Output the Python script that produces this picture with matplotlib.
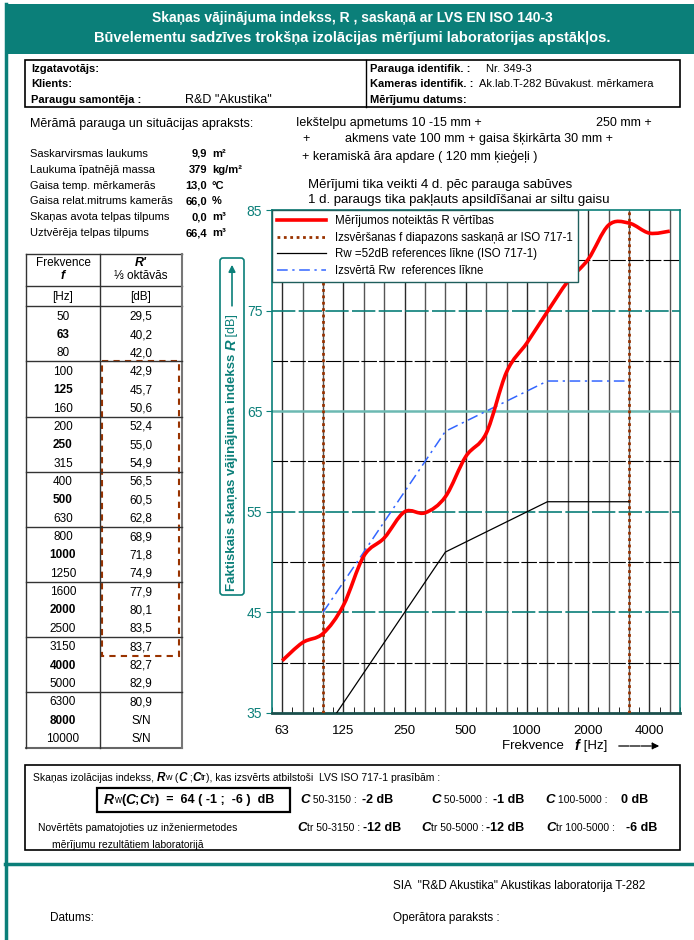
import matplotlib
matplotlib.use("Agg")
import matplotlib.pyplot as plt
from matplotlib.path import Path
from matplotlib.patches import PathPatch, Rectangle, FancyBboxPatch
from matplotlib.lines import Line2D

plt.rcParams['font.family'] = ['Liberation Sans', 'DejaVu Sans']

W, H = 694, 940
TEAL = "#0b7f79"
BROWN = "#993300"
BLUE = "#3366ff"

# --- data ---
table_freq = ["50", "63", "80", "100", "125", "160", "200", "250", "315", "400", "500", "630",
              "800", "1000", "1250", "1600", "2000", "2500", "3150", "4000", "5000", "6300", "8000", "10000"]
table_r = ["29,5", "40,2", "42,0", "42,9", "45,7", "50,6", "52,4", "55,0", "54,9", "56,5", "60,5", "62,8",
           "68,9", "71,8", "74,9", "77,9", "80,1", "83,5", "83,7", "82,7", "82,9", "80,9", "S/N", "S/N"]
bold_freq = ["63", "125", "250", "500", "1000", "2000", "4000", "8000"]

plot_freq = ["63", "80", "100", "125", "160", "200", "250", "315", "400", "500", "630", "800",
             "1000", "1250", "1600", "2000", "2500", "3150", "4000", "5000"]
r_meas = [40.2, 42.0, 42.9, 45.7, 50.6, 52.4, 55.0, 54.9, 56.5, 60.5, 62.8, 68.9,
          71.8, 74.9, 77.9, 80.1, 83.5, 83.7, 82.7, 82.9]
ref_freq = ["100", "125", "160", "200", "250", "315", "400", "500", "630", "800",
            "1000", "1250", "1600", "2000", "2500", "3150"]
ref_52 = [33, 36, 39, 42, 45, 48, 51, 52, 53, 54, 55, 56, 56, 56, 56, 56]
ref_64 = [45, 48, 51, 54, 57, 60, 63, 64, 65, 66, 67, 68, 68, 68, 68, 68]
range_freq = ["100", "3150"]
xtick_freq = ["63", "125", "250", "500", "1000", "2000", "4000"]
yticks = [35, 45, 55, 65, 75, 85]

params = [("Saskarvirsmas laukums", "9,9", "m²"),
          ("Laukuma īpatnējā massa", "379", "kg/m²"),
          ("Gaisa temp. mērkamerās", "13,0", "°C"),
          ("Gaisa relat.mitrums kamerās", "66,0", "%"),
          ("Skaņas avota telpas tilpums", "0,0", "m³"),
          ("Uztvērēja telpas tilpums", "66,4", "m³")]

legend_labels = ["Mērījumos noteiktās R vērtības",
                 "Izsvēršanas f diapazons saskaņā ar ISO 717-1",
                 "Rw =52dB references līkne (ISO 717-1)",
                 "Izsvērtā Rw  references līkne"]

fig = plt.figure(figsize=(W / 100, H / 100), dpi=100)
bg = fig.add_axes([0, 0, 1, 1])
bg.set_xlim(0, W)
bg.set_ylim(H, 0)
bg.axis('off')
rend = fig.canvas.get_renderer()


def runs(x, y, parts, va='center'):
    for s, kw in parts:
        t = bg.text(x, y, s, va=va, ha='left', **kw)
        x += t.get_window_extent(rend).width
    return x


def vruns(x, y, parts):
    for s, kw in parts:
        t = bg.text(x, y, s, va='center', ha='left', rotation=90, rotation_mode='anchor', **kw)
        y -= t.get_window_extent(rend).height
    return y


# --- frame / header ---
bg.add_patch(Rectangle((5, 4), W - 5, 50, color=TEAL, lw=0))
bg.plot([6, 6], [4, H], color=TEAL, lw=2.5)
bg.plot([5, W], [864, 864], color=TEAL, lw=2.5)
bg.text(352, 18, "Skaņas vājinājuma indekss, R , saskaņā ar LVS EN ISO 140-3", color='white',
        fontsize=10, fontweight='bold', ha='center', va='center')
bg.text(352, 38, "Būvelementu sadzīves trokšņa izolācijas mērījumi laboratorijas apstākļos.",
        color='white', fontsize=10.5, fontweight='bold', ha='center', va='center')

# info box
bg.add_patch(Rectangle((25, 60), 655, 47, fill=False, ec='black', lw=1.2))
bg.plot([366, 366], [60, 107], color='black', lw=1)
info_fs = 8
bg.text(31, 69, "Izgatavotājs:", fontsize=info_fs, fontweight='bold', va='center')
bg.text(31, 84, "Klients:", fontsize=info_fs, fontweight='bold', va='center')
bg.text(31, 100, "Paraugu samontēja :", fontsize=info_fs, fontweight='bold', va='center')
bg.text(185, 100, 'R&D "Akustika"', fontsize=9, va='center')
bg.text(370, 69, "Parauga identifik. :", fontsize=info_fs, fontweight='bold', va='center')
bg.text(370, 84, "Kameras identifik. :", fontsize=info_fs, fontweight='bold', va='center')
bg.text(370, 100, "Mērījumu datums:", fontsize=info_fs, fontweight='bold', va='center')
bg.text(486, 69, "Nr. 349-3", fontsize=8, va='center')
bg.text(479, 84, "Ak.lab.T-282 Būvakust. mērkamera", fontsize=8, va='center')

# description
bg.text(30, 124, "Mērāmā parauga un situācijas apraksts:", fontsize=9, va='center')
bg.text(296, 123, "Iekštelpu apmetums 10 -15 mm +", fontsize=9, va='center')
bg.text(596, 123, "250 mm +", fontsize=9, va='center')
bg.text(302, 139, "+", fontsize=9, va='center')
bg.text(345, 139, "akmens vate 100 mm + gaisa šķirkārta 30 mm +", fontsize=9, va='center')
bg.text(302, 156, "+ keramiskā āra apdare ( 120 mm ķieģeļi )", fontsize=9, va='center')
bg.text(308, 185, "Mērījumi tika veikti 4 d. pēc parauga sabūves", fontsize=9.5, va='center')
bg.text(308, 200, "1 d. paraugs tika pakļauts apsildīšanai ar siltu gaisu", fontsize=9.5, va='center')

for i, (lab, val, unit) in enumerate(params):
    y = 154 + i * 15.8
    bg.text(30, y, lab, fontsize=8, va='center')
    bg.text(207, y, val, fontsize=8, fontweight='bold', va='center', ha='right')
    bg.text(212, y, unit, fontsize=8, fontweight='bold', va='center')

# --- table ---
tl, tm, tr = 26, 100, 182
tc = '#333333'
bg.plot([tl, tr], [254, 254], color=tc, lw=1)
bg.plot([tl, tr], [286, 286], color=tc, lw=1)
bg.plot([tl, tr], [306, 306], color=tc, lw=1)
bg.plot([tl, tr], [748, 748], color='#666666', lw=1.5)
bg.plot([tl, tl], [254, 748], color=tc, lw=1)
bg.plot([tm, tm], [254, 748], color=tc, lw=1)
bg.plot([tr, tr], [254, 748], color='#777777', lw=1.5)
bg.text(63, 263, "Frekvence", fontsize=8.5, ha='center', va='center')
bg.text(63, 276, "f", fontsize=9, ha='center', va='center', fontweight='bold', style='italic')
bg.text(141, 263, "R'", fontsize=9, ha='center', va='center', fontweight='bold', style='italic')
bg.text(141, 276, "⅓ oktāvās", fontsize=8.5, ha='center', va='center')
bg.text(63, 297, "[Hz]", fontsize=8.5, ha='center', va='center')
bg.text(141, 297, "[dB]", fontsize=8.5, ha='center', va='center')
for i, (f, r) in enumerate(zip(table_freq, table_r)):
    y = 316.7 + i * 18.36
    bg.text(63, y, f, fontsize=8.5, ha='center', va='center',
            fontweight='bold' if f in bold_freq else 'normal')
    bg.text(141, y, r, fontsize=8.5, ha='center', va='center')
    if i % 3 == 2 and i < 21:
        bg.plot([tl, tr], [y + 8, y + 8], color=tc, lw=1)
i0 = table_freq.index(range_freq[0])
i1 = table_freq.index(range_freq[1])
bg.add_patch(Rectangle((102, 316.7 + (i0 - 1) * 18.36 + 8), 77, (i1 - i0 + 1) * 18.36 + 1,
                       fill=False, ec=BROWN, lw=1.5, ls=(0, (3, 2.5))))

# --- chart ---
ax = fig.add_axes([272 / W, 1 - 713 / H, 408 / W, 503 / H])
ax.set_xlim(-0.5, len(plot_freq) - 0.5)
ax.set_ylim(35, 85)
for i in range(len(plot_freq)):
    ax.axvline(i, color='#2a2a2a' if i % 3 == 0 else '#555555', lw=1.0, zorder=1)
for v in [40, 50, 60, 70, 80]:
    ax.axhline(v, color='black', lw=0.8, ls=(0, (14, 2)), zorder=1)
for v in [45, 55, 75]:
    ax.axhline(v, color=TEAL, lw=1.2, ls=(0, (14, 2)), zorder=1)
ax.axhline(65, color='#6cb9b2', lw=1.8, zorder=1)

for f in range_freq:
    ax.axvline(plot_freq.index(f), color=BROWN, lw=2, ls=(0, (1, 1.3)), zorder=3)

ref_x = [plot_freq.index(f) for f in ref_freq]
ax.plot(ref_x, ref_52, color='black', lw=0.9, zorder=3)
ax.plot(ref_x, ref_64, color=BLUE, lw=1.1, ls=(0, (7, 3, 1.5, 3)), zorder=3)

# smooth measured curve (Catmull-Rom -> bezier)
pts = list(zip(range(len(r_meas)), r_meas))
verts = [pts[0]]
codes = [Path.MOVETO]
for i in range(len(pts) - 1):
    p0 = pts[max(i - 1, 0)]
    p1 = pts[i]
    p2 = pts[i + 1]
    p3 = pts[min(i + 2, len(pts) - 1)]
    c1 = (p1[0] + (p2[0] - p0[0]) / 6, p1[1] + (p2[1] - p0[1]) / 6)
    c2 = (p2[0] - (p3[0] - p1[0]) / 6, p2[1] - (p3[1] - p1[1]) / 6)
    verts += [c1, c2, p2]
    codes += [Path.CURVE4] * 3
ax.add_patch(PathPatch(Path(verts, codes), fill=False, ec='red', lw=2.6, zorder=4))

ax.set_xticks([plot_freq.index(f) for f in xtick_freq])
ax.set_xticklabels(xtick_freq)
ax.set_xticks([i + 0.5 for i in range(-1, len(plot_freq))], minor=True)
ax.tick_params(axis='x', which='major', length=0, pad=9, labelsize=9.5)
ax.tick_params(axis='x', which='minor', direction='in', length=4, color='black')
ax.set_yticks(yticks)
ax.tick_params(axis='y', colors=TEAL, labelsize=10, length=4, pad=3)
for s in ['left', 'right', 'top']:
    ax.spines[s].set_color(TEAL)
    ax.spines[s].set_linewidth(1.2)
ax.spines['bottom'].set_color('#1a4f4c')
ax.spines['bottom'].set_linewidth(2)

handles = [Line2D([], [], color='red', lw=2.6),
           Line2D([], [], color=BROWN, lw=2, ls=(0, (1, 1.3))),
           Line2D([], [], color='black', lw=0.9),
           Line2D([], [], color=BLUE, lw=1.1, ls=(0, (7, 3, 1.5, 3)))]
leg = ax.legend(handles, legend_labels, loc='upper left', bbox_to_anchor=(0, 1), borderaxespad=0,
                fancybox=False, edgecolor='#1f5f5c', framealpha=1, fontsize=8.3,
                handlelength=4.2, labelspacing=0.4, borderpad=0.45)
leg.get_frame().set_linewidth(1.0)
leg.set_zorder(6)

# y label box
bg.add_patch(FancyBboxPatch((220, 258), 24, 337, boxstyle="round,pad=0,rounding_size=3",
                            fc='white', ec=TEAL, lw=1.2))
yend = vruns(232, 591, [("Faktiskais skaņas vājinājuma indekss ", dict(fontsize=9.5, fontweight='bold', color=TEAL)),
                        ("R", dict(fontsize=10.5, fontweight='bold', style='italic', color=TEAL)),
                        (" [dB]", dict(fontsize=9, color=TEAL))])
bg.annotate("", xy=(232, 262), xytext=(232, yend - 5),
            arrowprops=dict(arrowstyle='-|>', color=TEAL, lw=1.2, mutation_scale=10))

# x label
xend = runs(502, 746, [("Frekvence   ", dict(fontsize=9.5)),
                       ("f", dict(fontsize=10.5, fontweight='bold', style='italic')),
                       (" [Hz]", dict(fontsize=9.5))])
bg.annotate("", xy=(662, 746), xytext=(xend + 9, 746),
            arrowprops=dict(arrowstyle='-|>', color='black', lw=0.9, mutation_scale=10,
                            linestyle=(0, (8, 1))))

# --- bottom summary box ---
bg.add_patch(Rectangle((25, 765), 655, 85, fill=False, ec='black', lw=1.2))
s = dict(fontsize=7.5)
bi = dict(fontsize=8.5, fontweight='bold', style='italic')
sub = dict(fontsize=6.5)
runs(33, 778, [("Skaņas izolācijas indekss, ", s), ("R", bi), ("w", sub), (" (", s), ("C", bi), (" ;", s),
               ("C", bi), ("tr", sub), ("), kas izsvērts atbilstoši  LVS ISO 717-1 prasībām :", s)])
bg.add_patch(Rectangle((97, 788), 193, 24, fill=False, ec='black', lw=1.6))
bb = dict(fontsize=9, fontweight='bold')
bbi = dict(fontsize=10, fontweight='bold', style='italic')
runs(104, 800, [("R", bbi), ("w", dict(fontsize=7)), ("(", bb), ("C", bbi), (";", bb), ("C", bbi),
                ("tr", dict(fontsize=7)), (")  =  64 ( -1 ;  -6 )  dB", bb)])
row1 = [(300, "C", " 50-3150 :  ", "-2 dB"), (431, "C", " 50-5000 :  ", "-1 dB"),
        (545, "C", " 100-5000 :     ", "0 dB")]
row2 = [(297, "C", "tr 50-3150 : ", "-12 dB"), (421, "C", "tr 50-5000 : ", "-12 dB"),
        (546, "C", "tr 100-5000 :    ", "-6 dB")]
for y, row in [(800, row1), (828, row2)]:
    for x, c, mid, val in row:
        runs(x, y, [(c, dict(fontsize=9.5, fontweight='bold', style='italic')),
                    (mid, dict(fontsize=7.5)), (val, dict(fontsize=9, fontweight='bold'))])
bg.text(38, 828, "Novērtēts pamatojoties uz inženiermetodes", fontsize=7.5, va='center')
bg.text(52, 845, "mērījumu rezultātiem laboratorijā", fontsize=7.5, va='center')

# footer
bg.text(393, 886, 'SIA  "R&D Akustika" Akustikas laboratorija T-282', fontsize=8.5, va='center')
bg.text(50, 918, "Datums:", fontsize=8.5, va='center')
bg.text(393, 918, "Operātora paraksts :", fontsize=8.5, va='center')

fig.savefig("out.png", dpi=100)
